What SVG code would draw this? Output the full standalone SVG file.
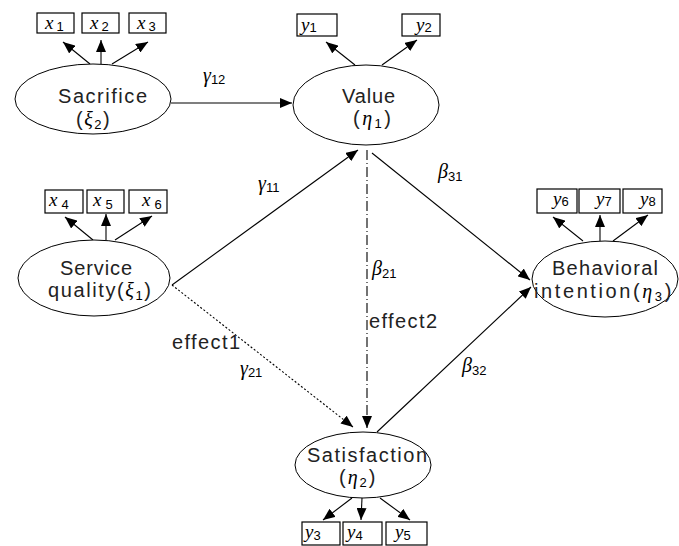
<svg xmlns="http://www.w3.org/2000/svg" width="679" height="546" viewBox="0 0 679 546">
<defs>
<marker id="ah" viewBox="0 0 12 10" refX="12" refY="5" markerWidth="12" markerHeight="10" markerUnits="userSpaceOnUse" orient="auto">
<path d="M0,0 L12,5 L0,10 Z" fill="#000"/>
</marker>
<style>
.el{fill:#fff;stroke:#000;stroke-width:1}
.bx{fill:#fff;stroke:#000;stroke-width:1.2}
.t{font-family:"Liberation Sans",Arial,sans-serif;font-size:20px;fill:#222}
.v{font-family:"Liberation Serif","Times New Roman",serif;font-style:italic;font-size:19px;fill:#000}
.s{font-family:"Liberation Sans",Arial,sans-serif;font-size:13px;fill:#000}
.g{font-family:"Liberation Serif","Times New Roman",serif;font-style:italic;font-size:20px;fill:#000}
.c{stroke:#000;stroke-width:1.1;fill:none;marker-end:url(#ah)}
.lbl{font-family:"Liberation Sans",Arial,sans-serif;font-size:20px;fill:#222}
</style>
</defs>
<rect width="679" height="546" fill="#fff"/>

<g id="connectors">
<line class="c" x1="171" y1="103" x2="292" y2="103"/>
<line class="c" x1="172" y1="285" x2="358" y2="150"/>
<line class="c" x1="172" y1="285" x2="353" y2="427" stroke-dasharray="2,2"/>
<line class="c" x1="367" y1="150" x2="367" y2="428" stroke-dasharray="10,3,1,3"/>
<line class="c" x1="372" y1="153" x2="530" y2="280"/>
<line class="c" x1="377" y1="432" x2="531" y2="287"/>
<line class="c" x1="90" y1="64" x2="63" y2="42"/>
<line class="c" x1="101" y1="64" x2="101" y2="40"/>
<line class="c" x1="112" y1="64" x2="148" y2="42"/>
<line class="c" x1="355" y1="65" x2="326" y2="42"/>
<line class="c" x1="382" y1="65" x2="417" y2="40"/>
<line class="c" x1="93" y1="240" x2="65" y2="217"/>
<line class="c" x1="106" y1="240" x2="106" y2="214"/>
<line class="c" x1="115" y1="240" x2="152" y2="216"/>
<line class="c" x1="583" y1="241" x2="553" y2="217"/>
<line class="c" x1="600" y1="241" x2="600" y2="215"/>
<line class="c" x1="613" y1="241" x2="648" y2="215"/>
<line class="c" x1="352" y1="498" x2="323" y2="520"/>
<line class="c" x1="362" y1="498" x2="361" y2="520"/>
<line class="c" x1="380" y1="498" x2="410" y2="520"/>
</g>

<g id="labels">
<text x="203" y="82"><tspan class="g">γ</tspan><tspan class="s" dy="2">12</tspan></text>
<text x="258" y="190"><tspan class="g">γ</tspan><tspan class="s" dy="2">11</tspan></text>
<text x="240" y="375"><tspan class="g">γ</tspan><tspan class="s" dy="2">21</tspan></text>
<text x="438" y="178"><tspan class="g">β</tspan><tspan class="s" dy="3">31</tspan></text>
<text x="372" y="275"><tspan class="g">β</tspan><tspan class="s" dy="3">21</tspan></text>
<text x="462" y="372"><tspan class="g">β</tspan><tspan class="s" dy="3">32</tspan></text>
<text class="lbl" x="172" y="349" textLength="68" lengthAdjust="spacing">effect1</text>
<text class="lbl" x="369" y="328" textLength="68" lengthAdjust="spacing">effect2</text>
</g>

<g id="sacrifice">
<ellipse class="el" cx="93" cy="99" rx="78" ry="35"/>
<text class="t" x="58" y="103" textLength="89" lengthAdjust="spacing">Sacrifice</text>
<text class="t" x="76" y="126" letter-spacing="1.5">(<tspan class="g" font-size="18">ξ</tspan><tspan class="s" dy="3">2</tspan><tspan dy="-3">)</tspan></text>
<rect class="bx" x="37" y="13" width="37" height="20"/>
<text x="45" y="29"><tspan class="v">x</tspan><tspan class="s" dx="3" dy="2">1</tspan></text>
<rect class="bx" x="82" y="13" width="37" height="20"/>
<text x="90" y="29"><tspan class="v">x</tspan><tspan class="s" dx="3" dy="2">2</tspan></text>
<rect class="bx" x="129" y="13" width="37" height="20"/>
<text x="137" y="29"><tspan class="v">x</tspan><tspan class="s" dx="3" dy="2">3</tspan></text>
</g>

<g id="value">
<ellipse class="el" cx="366" cy="105" rx="73" ry="40"/>
<text class="t" x="342" y="103" textLength="53" lengthAdjust="spacing">Value</text>
<text class="t" x="353" y="125" letter-spacing="2.5">(<tspan class="g" font-size="18">η</tspan><tspan class="s" dy="3">1</tspan><tspan dy="-3">)</tspan></text>
<rect class="bx" x="297" y="14" width="40" height="22"/>
<text x="301" y="31"><tspan class="v">y</tspan><tspan class="s" dy="1">1</tspan></text>
<rect class="bx" x="402" y="14" width="38" height="22"/>
<text x="416" y="31"><tspan class="v">y</tspan><tspan class="s" dy="1">2</tspan></text>
</g>

<g id="service-quality">
<ellipse class="el" cx="94" cy="278" rx="76" ry="38"/>
<text class="t" x="60" y="275" textLength="72" lengthAdjust="spacing">Service</text>
<text class="t" x="48" y="297" letter-spacing="1.6">quality(<tspan class="g" font-size="18">ξ</tspan><tspan class="s" dy="3">1</tspan><tspan dy="-3">)</tspan></text>
<rect class="bx" x="45" y="190" width="38" height="23"/>
<text x="49" y="206"><tspan class="v">x</tspan><tspan class="s" dx="4" dy="3">4</tspan></text>
<rect class="bx" x="87" y="190" width="37" height="23"/>
<text x="93" y="206"><tspan class="v">x</tspan><tspan class="s" dx="4" dy="3">5</tspan></text>
<rect class="bx" x="129" y="190" width="38" height="23"/>
<text x="142" y="206"><tspan class="v">x</tspan><tspan class="s" dx="4" dy="3">6</tspan></text>
</g>

<g id="behavioral-intention">
<ellipse class="el" cx="605" cy="279" rx="73" ry="38"/>
<text class="t" x="552" y="275" textLength="106" lengthAdjust="spacing">Behavioral</text>
<text class="t" x="534" y="298" letter-spacing="2.6">intention(<tspan class="g" font-size="18">η</tspan><tspan class="s" dy="3">3</tspan><tspan dy="-3">)</tspan></text>
<rect class="bx" x="537" y="189" width="40" height="24"/>
<text x="553" y="205"><tspan class="v">y</tspan><tspan class="s" dy="1">6</tspan></text>
<rect class="bx" x="579" y="189" width="41" height="24"/>
<text x="596" y="205"><tspan class="v">y</tspan><tspan class="s" dy="1">7</tspan></text>
<rect class="bx" x="623" y="189" width="39" height="24"/>
<text x="640" y="205"><tspan class="v">y</tspan><tspan class="s" dy="1">8</tspan></text>
</g>

<g id="satisfaction">
<ellipse class="el" cx="363" cy="465" rx="68" ry="33"/>
<text class="t" x="307" y="462" textLength="120" lengthAdjust="spacing">Satisfaction</text>
<text class="t" x="339" y="484" letter-spacing="2">(<tspan class="g" font-size="18">η</tspan><tspan class="s" dy="3">2</tspan><tspan dy="-3">)</tspan></text>
<rect class="bx" x="302" y="522" width="38" height="23"/>
<text x="305" y="538"><tspan class="v">y</tspan><tspan class="s" dy="2">3</tspan></text>
<rect class="bx" x="343" y="522" width="39" height="23"/>
<text x="347" y="538"><tspan class="v">y</tspan><tspan class="s" dy="2">4</tspan></text>
<rect class="bx" x="386" y="522" width="41" height="23"/>
<text x="395" y="538"><tspan class="v">y</tspan><tspan class="s" dy="2">5</tspan></text>
</g>
</svg>
